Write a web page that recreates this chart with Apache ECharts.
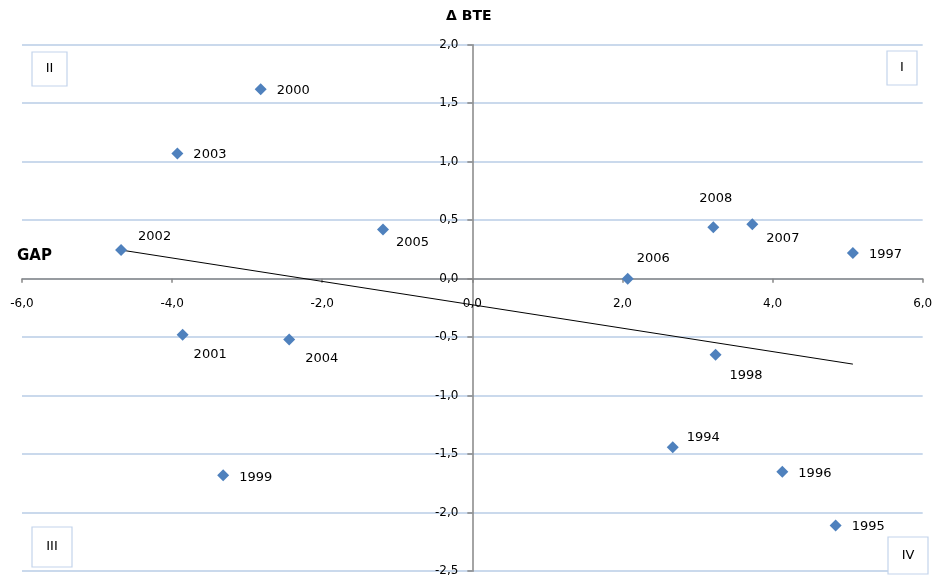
<!DOCTYPE html>
<html>
<head>
<meta charset="utf-8">
<script src="https://cdn.jsdelivr.net/npm/echarts@6/dist/echarts.min.js"></script>
<style>
html,body{margin:0;padding:0;background:#fff;}
#chart{width:935px;height:577px;}
</style>
</head>
<body>
<div id="chart"></div>
<script>
// ---- Data ----
const years = ['1994','1995','1996','1997','1998','1999','2000','2001','2002','2003','2004','2005','2006','2007','2008'];
const gap   = [2.67, 4.84, 4.13, 5.07, 3.24, -3.32, -2.82, -3.86, -4.68, -3.93, -2.44, -1.19, 2.07, 3.73, 3.21];
const bte   = [-1.44, -2.11, -1.65, 0.22, -0.65, -1.68, 1.62, -0.48, 0.245, 1.07, -0.52, 0.42, 0.0, 0.465, 0.44];
const trendGap = [-4.68, 5.07];
const trendBte = [0.245, -0.73];
const xTicks = [-6, 6, 2];       // min, max, interval
const yTicks = [-2.5, 2, 0.5];   // min, max, interval
const quadrants = ['I', 'II', 'III', 'IV'];

// ---- Layout / label placement (style only) ----
const G = {left: 22, right: 12.3, top: 44.7, bottom: 5.8};
const W = 935, H = 577;
const labelOffsets = {
  '1994': [14, -10], '1995': [16, 1], '1996': [16, 2], '1997': [16, 2], '1998': [14, 21],
  '1999': [16, 2], '2000': [16, 1], '2001': [11, 20], '2002': [17, -13], '2003': [16, 1],
  '2004': [16, 19], '2005': [13, 13], '2006': [9, -20], '2007': [14, 14], '2008': [-14, -29]
};
const quadBoxes = {
  'I':   {x: 887, y: 51, w: 30, h: 34},
  'II':  {x: 32, y: 52, w: 35, h: 34},
  'III': {x: 32, y: 527, w: 40, h: 40},
  'IV':  {x: 888, y: 537, w: 40, h: 37}
};

const FONT = 'DejaVu Sans';
const fmt = v => v.toFixed(1).replace('.', ',');

// axis crossing offsets (place each axis at the other's zero)
const plotW = W - G.left - G.right, plotH = H - G.top - G.bottom;
const zeroXpx = plotW * (0 - xTicks[0]) / (xTicks[1] - xTicks[0]);      // from left edge of grid
const zeroYpx = plotH * (0 - yTicks[0]) / (yTicks[1] - yTicks[0]);      // from bottom edge of grid

const scatterData = years.map((yr, i) => ({
  value: [gap[i], bte[i]],
  name: yr,
  label: { offset: labelOffsets[yr] }
}));

const graphics = [];
quadrants.forEach(q => {
  const b = quadBoxes[q];
  graphics.push({
    type: 'rect', shape: {x: b.x, y: b.y, width: b.w, height: b.h},
    style: {fill: '#fff', stroke: '#c3d4ec', lineWidth: 1.2}, z: 10
  });
  graphics.push({
    type: 'text', x: b.x + b.w / 2, y: b.y + b.h / 2,
    style: {text: q, fontFamily: FONT, fontSize: 13, fill: '#000', align: 'center', verticalAlign: 'middle'}, z: 11
  });
});

const chart = echarts.init(document.getElementById('chart'), null, {renderer: 'canvas'});
chart.setOption({
  animation: false,
  backgroundColor: '#fff',
  title: [
    {text: 'Δ BTE', left: 441, top: 4, textStyle: {fontFamily: FONT, fontSize: 14, fontWeight: 'bold', color: '#000'}},
    {text: 'GAP', left: 12, top: 244, textStyle: {fontFamily: FONT, fontSize: 15, fontWeight: 'bold', color: '#000'}}
  ],
  grid: {left: G.left, right: G.right, top: G.top, bottom: G.bottom, containLabel: false, outerBoundsMode: 'none'},
  xAxis: {
    type: 'value', min: xTicks[0], max: xTicks[1], interval: xTicks[2],
    position: 'bottom', offset: -zeroYpx,
    axisLine: {onZero: false, lineStyle: {color: '#868686', width: 1.5}},
    axisTick: {show: true, length: 4, lineStyle: {color: '#868686', width: 1.5}},
    axisLabel: {formatter: fmt, margin: 19, fontFamily: FONT, fontSize: 12, color: '#000'},
    splitLine: {show: false}
  },
  yAxis: {
    type: 'value', min: yTicks[0], max: yTicks[1], interval: yTicks[2],
    position: 'left', offset: -zeroXpx,
    axisLine: {onZero: false, lineStyle: {color: '#868686', width: 1.5}},
    axisTick: {show: true, length: 5, lineStyle: {color: '#868686', width: 1.5}},
    axisLabel: {formatter: fmt, margin: 14, fontFamily: FONT, fontSize: 12, color: '#000'},
    splitLine: {show: true, lineStyle: {color: '#b9cde6', width: 1.5}}
  },
  series: [
    {
      type: 'line',
      data: trendGap.map((g, i) => [g, trendBte[i]]),
      symbol: 'none',
      lineStyle: {color: '#000', width: 1},
      z: 3, silent: true
    },
    {
      type: 'scatter',
      data: scatterData,
      symbol: 'diamond',
      symbolSize: 12,
      itemStyle: {color: '#4f81bd', opacity: 1},
      label: {
        show: true, position: 'inside', align: 'left', verticalAlign: 'middle',
        formatter: p => p.name, fontFamily: FONT, fontSize: 13, color: '#000'
      },
      z: 4
    }
  ],
  graphic: graphics
});
</script>
</body>
</html>
